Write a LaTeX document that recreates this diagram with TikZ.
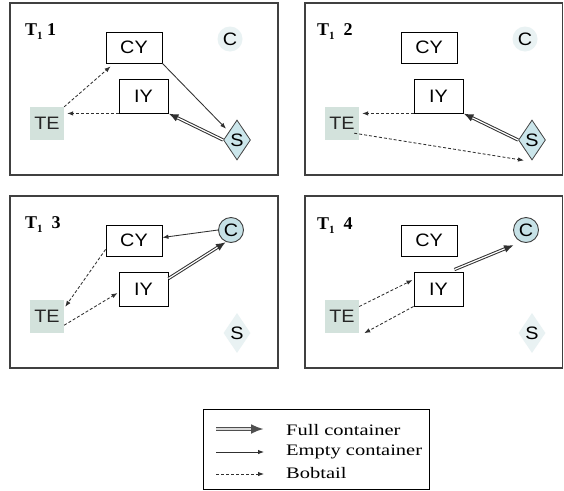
\documentclass[tikz,border=0pt]{standalone}
\usepackage{fontspec}
\usetikzlibrary{arrows.meta,shapes.geometric}
\newfontfamily\boxfont[FakeStretch=1.1]{Liberation Sans}
\newfontfamily\legfont[FakeStretch=1.28]{Liberation Serif}
\newfontfamily\tagfont{Liberation Serif}
\definecolor{framegray}{HTML}{404040}
\definecolor{inkgray}{HTML}{303030}
\definecolor{tefill}{HTML}{D3E2DC}
\definecolor{sfill}{HTML}{CBE6EB}
\definecolor{cfill}{HTML}{C6E1E6}
\definecolor{palefill}{HTML}{E9F2F3}
\newcommand{\steptag}[2]{{\tagfont\bfseries\fontsize{18}{18}\selectfont T\raisebox{-4pt}{\fontsize{11}{11}\selectfont 1}#1#2}}
\begin{document}
\begin{tikzpicture}[x=1pt,y=-1pt,
  panel/.style={draw=framegray,line width=1.3pt},
  yard/.style={draw=black,fill=white,line width=0.9pt,inner sep=0pt,
    font=\boxfont\fontsize{18}{18}\selectfont},
  term/.style={fill=tefill,minimum width=34pt,minimum height=33pt,inner sep=0pt,
    font=\boxfont\fontsize{18}{18}\selectfont,text=black!85},
  shipon/.style={shape=diamond,draw=framegray,fill=sfill,line width=0.8pt,inner sep=0pt,
    minimum width=27pt,minimum height=40pt,font=\boxfont\fontsize{18}{18}\selectfont},
  shipoff/.style={shape=diamond,fill=palefill,inner sep=0pt,
    minimum width=27pt,minimum height=40pt,font=\boxfont\fontsize{18}{18}\selectfont},
  custon/.style={circle,draw=framegray,fill=cfill,line width=0.9pt,inner sep=0pt,
    minimum size=25pt,font=\boxfont\fontsize{18}{18}\selectfont},
  custoff/.style={circle,fill=palefill,inner sep=0pt,
    minimum size=25pt,font=\boxfont\fontsize{18}{18}\selectfont},
  empty/.style={draw=inkgray,line width=0.85pt,-{Latex[length=6pt,width=4.5pt]}},
  bobtail/.style={draw=inkgray,line width=0.85pt,dash pattern=on 3pt off 2pt,
    -{Latex[length=6pt,width=4.5pt]}},
  % full container: dark band with a light core and a solid head
  full/.style={draw=inkgray,line width=3.2pt,-{Latex[length=10pt,width=8pt]},
    postaction={draw=white,line width=1.2pt,-,shorten >=10pt}},
  bigfull/.style={draw=inkgray!85,line width=3.6pt,-{Latex[length=13pt,width=10pt]},
    postaction={draw=white!70!gray,line width=1.2pt,-,shorten >=13pt}},
  legtext/.style={anchor=base west,inner sep=0pt,font=\legfont\fontsize{16}{16}\selectfont}
]
\useasboundingbox (0,0) rectangle (564,490);
\fill[white] (0,0) rectangle (564,490);

% frames of the four time steps
\draw[panel] (10,3) rectangle (278,175);
\draw[panel] (305,3) rectangle (562.5,175);
\draw[panel] (10,196) rectangle (278,368);
\draw[panel] (305,196) rectangle (562.5,368);

\node[anchor=base west,inner sep=0pt] (tag1) at (25,35) {\steptag{ }{1}};
\node[anchor=base west,inner sep=0pt] (tag2) at (317,35) {\steptag{\ \ }{2}};
\node[anchor=base west,inner sep=0pt] (tag3) at (25,228) {\steptag{\ \ }{3}};
\node[anchor=base west,inner sep=0pt] (tag4) at (317,229) {\steptag{\ \ }{4}};

% the same five places in every step
\foreach \p/\ox/\oy in {1/0/0,2/295/0,3/0/193,4/295/193}{
  \node[yard,minimum width=56pt,minimum height=31pt] (cy\p) at (134+\ox,47.5+\oy) {CY};
  \node[yard,minimum width=49pt,minimum height=34pt] (iy\p) at (143.5+\ox,96+\oy) {IY};
  \node[term] (te\p) at (47+\ox,123.5+\oy) {TE};
}
\foreach \p/\ox/\oy in {1/0/0,2/295/0}{
  \node[custoff] (c\p) at (230+\ox,39+\oy) {C};
  \node[shipon] (s\p) at (237+\ox,140+\oy) {S};
}
\foreach \p/\ox/\oy in {3/0/193,4/295/193}{
  \node[custon] (c\p) at (231+\ox,37+\oy) {C};
  \node[shipoff] (s\p) at (237+\ox,140+\oy) {S};
}

% step 1
\draw[bobtail] (te1.north east) -- ([shift={(5,3)}]cy1.south west);
\draw[bobtail,shorten >=3pt] (iy1.south west) -- (te1.east |- iy1.south west);
\draw[empty,shorten >=4pt] (cy1.south east) -- (s1);
\draw[full] (s1.west) -- (iy1.south east);

% step 2
\draw[bobtail,shorten >=3pt] (iy2.south west) -- (te2.east |- iy2.south west);
\draw[full] (s2.west) -- (iy2.south east);
\draw[bobtail] ([shift={(-5,-7)}]te2.south east) -- ([shift={(-8,0)}]s2.south);

% step 3
\draw[empty] (c3.west) -- ([shift={(0,-3)}]cy3.east);
\draw[full] ([shift={(0,7)}]iy3.north east) -- ([shift={(-5,12)}]c3.center);
\draw[bobtail] ([shift={(0,-7)}]cy3.south west) -- ([shift={(1,7)}]te3.north east);
\draw[bobtail] ([shift={(0,-8)}]te3.south east) -- ([shift={(-1,4)}]iy3.west);

% step 4
\draw[full] ([shift={(-9,-2)}]iy4.north east) -- ([shift={(-12,15)}]c4.center);
\draw[bobtail] ([shift={(0,-10)}]te4.east) -- ([shift={(-1,-9)}]iy4.west);
\draw[bobtail] (iy4.south west) -- ([shift={(5,0)}]te4.south east);

% legend
\draw[draw=black,line width=0.9pt] (203,409) rectangle (429,489);
\coordinate (fa) at (216,429); \coordinate (fb) at (264,429);
\coordinate (ea) at (216,452); \coordinate (eb) at (264,452);
\coordinate (ba) at (216,474); \coordinate (bb) at (264,474);
\draw[bigfull] (fa) -- (fb);
\draw[empty] (ea) -- (eb);
\draw[bobtail] (ba) -- (bb);
\node[legtext] (lfull) at (286,435) {Full container};
\node[legtext] (lempty) at (286,455) {Empty container};
\node[legtext] (lbob) at (286,478) {Bobtail};
\end{tikzpicture}
\end{document}
